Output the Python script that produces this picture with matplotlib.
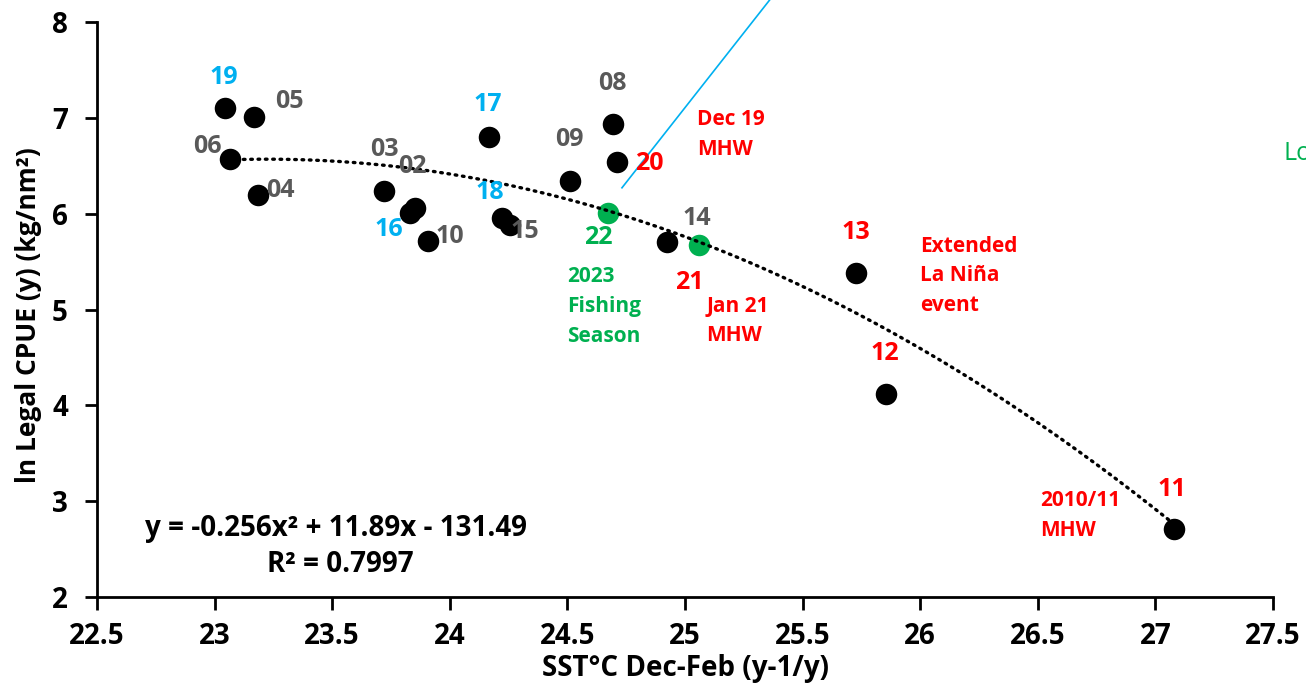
import matplotlib
matplotlib.use("Agg")
import matplotlib.pyplot as plt
import numpy as np

plt.rcParams['font.family'] = ['Open Sans', 'DejaVu Sans']

# ---- data ----
sst_black = [23.044, 23.167, 23.065, 23.185, 23.72, 23.83, 23.85, 23.907,
             24.167, 24.222, 24.256, 24.511, 24.694, 24.711, 24.923,
             25.727, 25.855, 27.079]
cpue_black = [7.10, 7.01, 6.57, 6.19, 6.24, 6.01, 6.06, 5.71,
              6.80, 5.95, 5.88, 6.34, 6.94, 6.54, 5.70,
              5.38, 4.12, 2.71]
sst_green = [24.673, 25.06]
cpue_green = [6.01, 5.67]

# trendline coefficients (Excel polynomial fit shown on chart)
trend_coef = [-0.256, 11.89, -131.49]
trend_range = [23.06, 27.08]

GRAY, BLUE, RED, GREEN = '#595959', '#00B0F0', '#FF0000', '#00B050'
year_labels = [
    ('19', 23.04, 7.42, BLUE), ('05', 23.32, 7.17, GRAY), ('06', 22.97, 6.70, GRAY),
    ('04', 23.28, 6.24, GRAY), ('03', 23.72, 6.67, GRAY), ('02', 23.84, 6.49, GRAY),
    ('16', 23.74, 5.84, BLUE), ('10', 24.0, 5.76, GRAY), ('17', 24.16, 7.14, BLUE),
    ('18', 24.17, 6.22, BLUE), ('15', 24.32, 5.81, GRAY), ('09', 24.51, 6.77, GRAY),
    ('08', 24.69, 7.36, GRAY), ('20', 24.85, 6.52, RED), ('22', 24.63, 5.75, GREEN),
    ('14', 25.05, 5.95, GRAY), ('21', 25.02, 5.28, RED), ('13', 25.727, 5.80, RED),
    ('12', 25.85, 4.54, RED), ('11', 27.07, 3.12, RED),
]
notes = [
    ('Dec 19\nMHW', 25.05, 6.83, RED), ('2023\nFishing\nSeason', 24.50, 5.03, GREEN),
    ('Jan 21\nMHW', 25.09, 4.88, RED), ('Extended\nLa Niña\nevent', 26.0, 5.35, RED),
    ('2010/11\nMHW', 26.51, 2.85, RED),
]
blue_line_x = [24.732, 25.36]
blue_line_y = [6.27, 8.23]

fig = plt.figure(figsize=(13.06, 6.93), dpi=100)
ax = fig.add_axes([97/1306, 1 - 597/693, (1273-97)/1306, (597-22)/693])
ax.set_xlim(22.5, 27.5)
ax.set_ylim(2, 8)

xs = np.linspace(trend_range[0], trend_range[1], 300)
ax.plot(xs, np.polyval(trend_coef, xs), color='black', lw=2.4,
        linestyle=(0, (0.5, 1.7)), dash_capstyle='round', zorder=3)

ax.scatter(sst_black, cpue_black, s=240, color='black', zorder=2, linewidths=0)
ax.scatter(sst_green, cpue_green, s=240, color=GREEN, zorder=2, linewidths=0)

ax.plot(blue_line_x, blue_line_y, color=BLUE, lw=1.2, clip_on=False, zorder=4)

for t, x, y, c in year_labels:
    ax.text(x, y, t, color=c, fontsize=18, fontweight='bold', ha='center', va='center', zorder=5)
for t, x, y, c in notes:
    ax.text(x, y, t, color=c, fontsize=15, fontweight='bold', ha='left', va='center',
            linespacing=1.55, zorder=5)

fig.text(1284/1306, 1 - 153/693, 'Lo', color=GREEN, fontsize=18, ha='left', va='center')

ax.text(22.704, 2.71, 'y = -0.256x² + 11.89x - 131.49', fontsize=20, fontweight='bold',
        ha='left', va='center')
ax.text(23.533, 2.34, 'R² = 0.7997', fontsize=20, fontweight='bold', ha='center', va='center')

for s in ['top', 'right']:
    ax.spines[s].set_visible(False)
for s in ['left', 'bottom']:
    ax.spines[s].set_linewidth(2)
ax.set_xticks(np.arange(22.5, 27.51, 0.5))
ax.set_xticklabels(['22.5', '23', '23.5', '24', '24.5', '25', '25.5', '26', '26.5', '27', '27.5'])
ax.set_yticks(np.arange(2, 8.1, 1))
ax.tick_params(direction='out', length=9, width=2, labelsize=20)
for lab in ax.get_xticklabels() + ax.get_yticklabels():
    lab.set_fontweight('bold')
ax.tick_params(axis='x', pad=9)
ax.tick_params(axis='y', pad=12)

ax.set_xlabel('SST°C Dec-Feb (y-1/y)', fontsize=20, fontweight='bold', labelpad=2)
ax.set_ylabel('ln Legal CPUE (y) (kg/nm²)', fontsize=19, fontweight='bold')
ax.yaxis.set_label_coords(-0.0468, 0.49)

fig.savefig('out.png', dpi=100)
